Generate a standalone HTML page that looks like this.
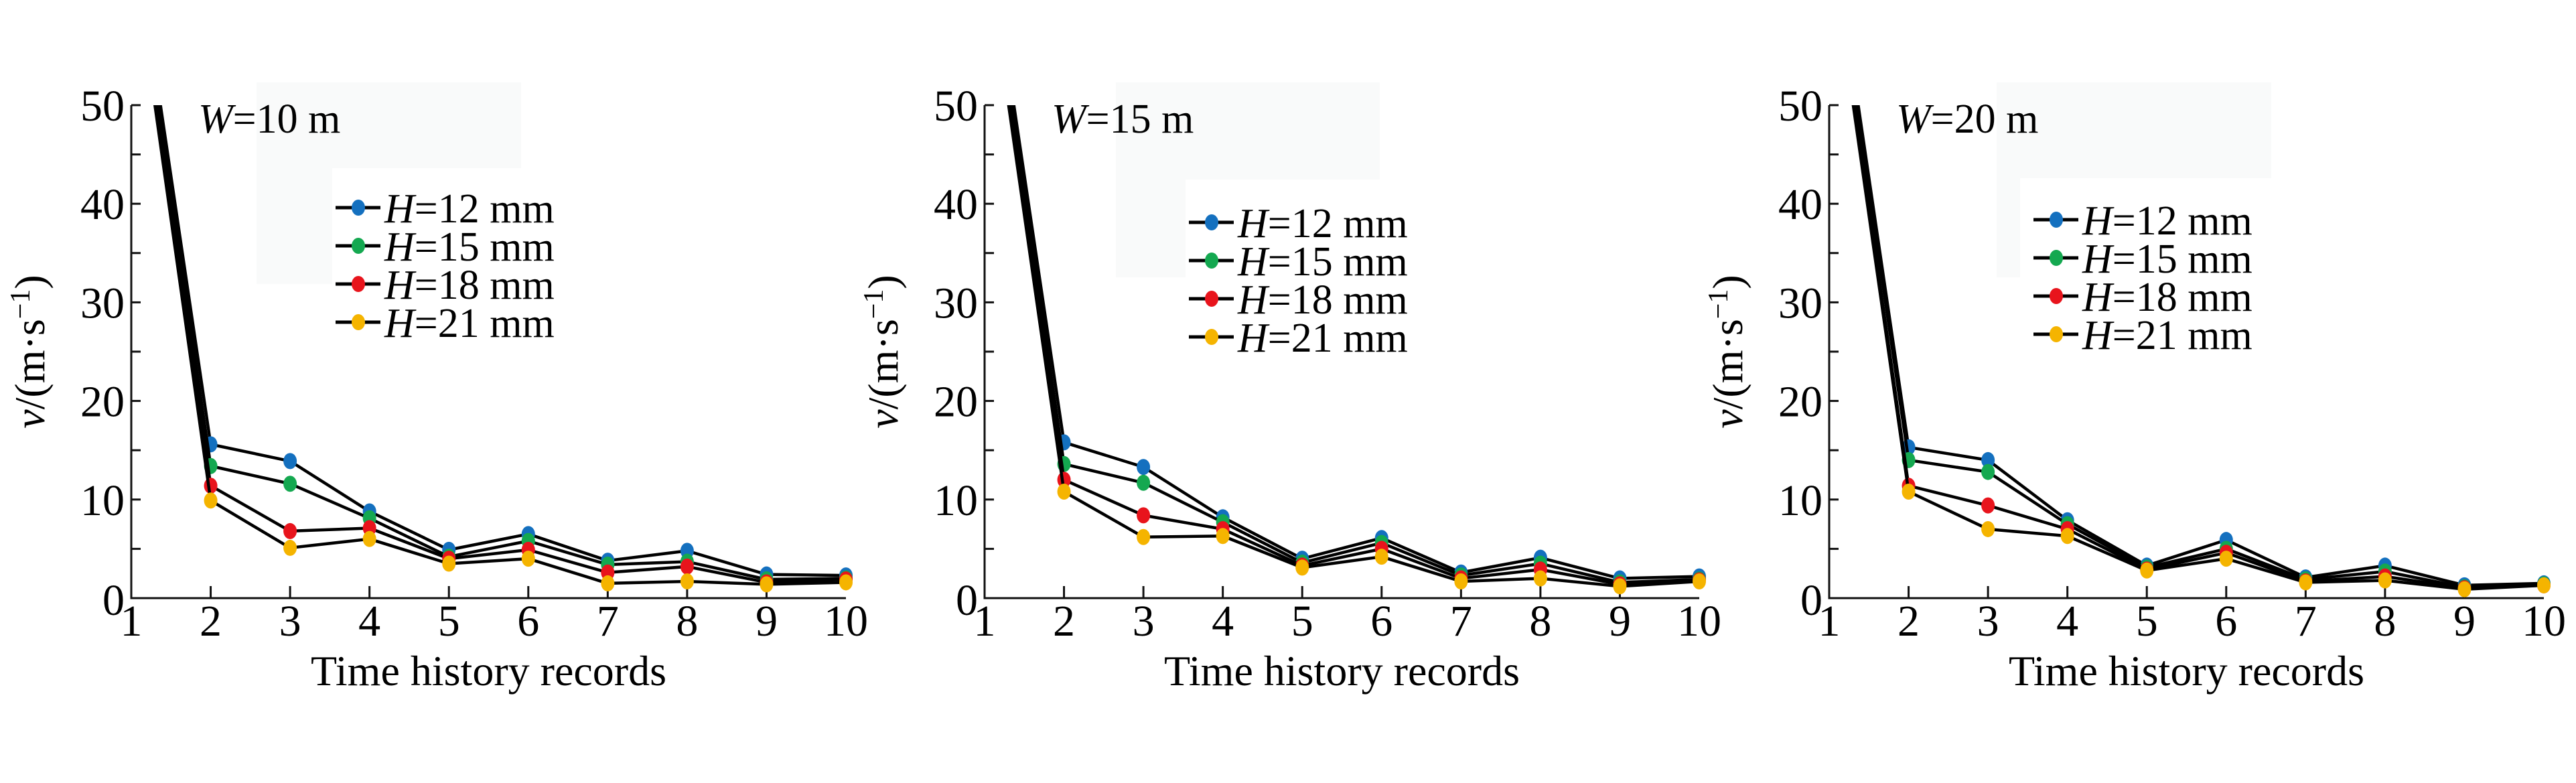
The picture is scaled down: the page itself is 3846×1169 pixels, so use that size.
<!DOCTYPE html>
<html><head><meta charset="utf-8"><style>
html,body{margin:0;padding:0;background:#fff;}
svg{display:block;}
svg text{font-family:"Liberation Serif","DejaVu Serif",serif;fill:#000;}
</style></head>
<body>
<svg id="fig" width="3846" height="1169" viewBox="0 0 3846 1169" xmlns="http://www.w3.org/2000/svg" font-family="Liberation Serif, serif"></svg>
<script>
const categories = [1,2,3,4,5,6,7,8,9,10];
const seriesNames = ["12","15","18","21"];
const seriesColors = ["#1470bf","#14a850","#e8141c","#f5b400"];
const xTickLabels = ["1","2","3","4","5","6","7","8","9","10"];
const yTickLabels = [0,10,20,30,40,50];
const widths = ["10","15","20"];
// panel W=10
const p1H12 = [70,15.6,13.9,8.8,4.9,6.5,3.8,4.8,2.4,2.3];
const p1H15 = [69,13.4,11.6,8.1,4.2,5.8,3.4,3.7,1.9,2.0];
const p1H18 = [68,11.4,6.8,7.1,4.0,4.9,2.6,3.2,1.6,1.9];
const p1H21 = [67,9.9,5.1,6.0,3.5,4.0,1.5,1.7,1.4,1.6];
// panel W=15
const p2H12 = [70,15.8,13.3,8.2,4.0,6.1,2.6,4.1,2.0,2.2];
const p2H15 = [69,13.6,11.7,7.7,3.6,5.6,2.3,3.5,1.6,1.9];
const p2H18 = [68,12.0,8.4,7.0,3.3,5.0,2.0,2.9,1.4,1.8];
const p2H21 = [67,10.8,6.2,6.3,3.1,4.2,1.7,2.0,1.2,1.7];
// panel W=20
const p3H12 = [70,15.3,14.0,7.9,3.3,5.9,2.1,3.3,1.3,1.5];
const p3H15 = [69,14.0,12.8,7.5,3.1,5.0,1.9,2.7,1.1,1.4];
const p3H18 = [68,11.4,9.4,7.0,2.9,4.6,1.7,2.2,1.0,1.3];
const p3H21 = [67,10.8,7.0,6.3,2.8,4.0,1.6,1.8,0.9,1.3];
const panelData = [[p1H12,p1H15,p1H18,p1H21],[p2H12,p2H15,p2H18,p2H21],[p3H12,p3H15,p3H18,p3H21]];

const NS="http://www.w3.org/2000/svg";
const svg=document.getElementById('fig');
function mk(tag,attrs,parent){const e=document.createElementNS(NS,tag);for(const k in attrs)e.setAttribute(k,attrs[k]);if(tag==='text')e.setAttribute('font-family','Liberation Serif, serif');(parent||svg).appendChild(e);return e;}

const axisLefts=[196,1470,2731];
const plotW=1067, y0=893, y50=157;
const legendDy=[0,22,18];
const boxes=[
 [[187,123,582,251],[187,251,300,424]],
 [[196,123,590,268],[196,268,300,414]],
 [[250,123,660,266],[250,266,285,414]]
];

axisLefts.forEach((L,pi)=>{
  const g=mk('g',{});
  
  
  const xs=v=>L+(v-1)*plotW/9;
  const ys=v=>y0-(v/50)*(y0-y50);
  boxes[pi].forEach(b=>{
    const r=mk('rect',{x:L+b[0],y:b[1],width:b[2]-b[0],height:b[3]-b[1],fill:'#f9fafa'},g);
    
    
  });
  const cp=mk('clipPath',{id:'clip'+pi},g);
  mk('rect',{x:L-20,y:y50,width:plotW+40,height:y0-y50+20},cp);
  const ax=mk('path',{d:`M${L} ${y50}V${y0}H${L+plotW}`,stroke:'#111',fill:'none','stroke-width':3},g);
  
  
  for(let v=5;v<=50;v+=5){
    mk('line',{x1:L,x2:L+14,y1:ys(v),y2:ys(v),stroke:'#111','stroke-width':3},g);
  }
  yTickLabels.forEach(v=>{
    const t=mk('text',{x:L-10,y:ys(v)+(v===0?25:23),'font-size':66,'text-anchor':'end'},g);
    t.textContent=v;
    
    
  });
  categories.forEach((c,i)=>{
    if(i>0&&i<9) mk('line',{x1:xs(c),x2:xs(c),y1:y0,y2:y0-18,stroke:'#111','stroke-width':3},g);
    const t=mk('text',{x:xs(c),y:y0+56,'font-size':66,'text-anchor':'middle'},g);
    t.textContent=xTickLabels[i];
    
    
  });
  const xt=mk('text',{x:L+plotW/2,y:1023,'font-size':64,'text-anchor':'middle'},g);
  xt.textContent='Time history records';
  
  
  const yt=mk('text',{x:0,y:0,'font-size':64,'text-anchor':'middle',transform:`translate(${L-130},${(y0+y50)/2}) rotate(-90)`},g);
  yt.innerHTML='<tspan font-style="italic">v</tspan>/(m·s<tspan dy="-22" font-size="42">−1</tspan><tspan dy="22">)</tspan>';
  
  
  const wt=mk('text',{x:L+100,y:198,'font-size':62},g);
  wt.innerHTML='<tspan font-style="italic">W</tspan>='+widths[pi]+' m';
  
  
  panelData[pi].forEach((arr,si)=>{
    const sg=mk('g',{'clip-path':`url(#clip${pi})`},g);
    
    
    const d=arr.map((v,i)=>(i?'L':'M')+xs(categories[i])+' '+ys(v)).join('');
    const ln=mk('path',{d:d,stroke:'#000',fill:'none','stroke-width':4.5,'stroke-linejoin':'round'},sg);
    
    
    arr.forEach((v,i)=>{
      if(i===0)return;
      const c=mk('ellipse',{cx:xs(categories[i]),cy:ys(v),rx:10,ry:12,fill:seriesColors[si]},sg);
      
      
    });
  });
  seriesNames.forEach((n,si)=>{
    const ly=310+legendDy[pi]+si*57;
    const lg=mk('g',{},g);
    
    
    mk('line',{x1:L+305,x2:L+372,y1:ly,y2:ly,stroke:'#000','stroke-width':5},lg);
    mk('ellipse',{cx:L+339,cy:ly,rx:10,ry:12,fill:seriesColors[si]},lg);
    const t=mk('text',{x:L+378,y:ly+22,'font-size':62},lg);
    t.innerHTML='<tspan font-style="italic">H</tspan>='+n+' mm';
  });
});
</script>
</body></html>
